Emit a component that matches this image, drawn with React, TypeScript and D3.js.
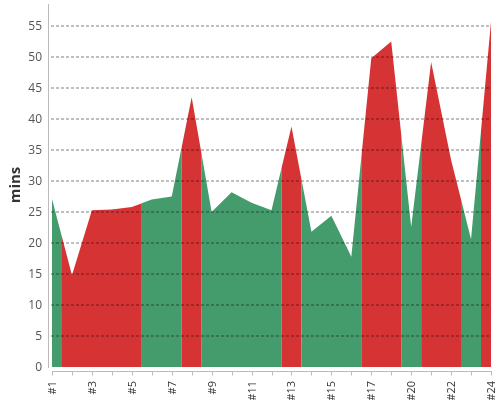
import React from "react";
import * as d3 from "d3";

const categories = ["#1","#2","#3","#4","#5","#6","#7","#8","#9","#10","#11","#12","#13","#14","#15","#16","#17","#18","#20","#21","#22","#23","#24"];
const values = [27.1,14.8,25.3,25.4,25.8,27.0,27.5,43.5,25.0,28.2,26.5,25.3,38.8,21.8,24.4,17.8,49.8,52.5,22.6,49.2,33.4,20.6,55.7];
const outcome = ["g","r","r","r","r","g","g","r","g","g","g","g","r","g","g","g","r","r","g","r","r","g","r"];
const yTicks = [0,5,10,15,20,25,30,35,40,45,50,55];
const yLabel = "mins";

const W = 500, H = 400;
const colors: Record<string, string> = { g: "#449c6c", r: "#d63334" };

export default function App() {
  const x = d3.scalePoint<string>().domain(categories).range([52, 491]);
  const y = d3.scaleLinear().domain([0, 55]).range([367, 26]);
  const step = x.step();
  const data = categories.map((c, i) => ({ c, v: values[i], o: outcome[i] }));
  const area = d3.area<typeof data[0]>().x(d => x(d.c)!).y0(y(0)).y1(d => y(d.v));
  const path = area(data) || "";

  // group runs of the same colour
  const runs: { o: string; start: number; end: number }[] = [];
  data.forEach((d, i) => {
    const last = runs[runs.length - 1];
    if (last && last.o === d.o) last.end = i;
    else runs.push({ o: d.o, start: i, end: i });
  });
  const x0 = x(categories[0])!;
  const x1 = x(categories[categories.length - 1])!;

  return (
    <svg width={W} height={H} style={{ position: "fixed", left: 0, top: 0, fontFamily: "'Open Sans', sans-serif" }}>
      <defs>
        {runs.map((r, i) => {
          const a = Math.max(x0, x(categories[r.start])! - step / 2);
          const b = Math.min(x1, x(categories[r.end])! + step / 2);
          return (
            <clipPath id={`run${i}`} key={i}>
              <rect x={a} y={0} width={b - a} height={H} />
            </clipPath>
          );
        })}
      </defs>
      {runs.map((r, i) => (
        <path key={i} d={path} fill={colors[r.o]} clipPath={`url(#run${i})`} />
      ))}
      {yTicks.filter(t => t > 0).map(t => (
        <line key={t} x1={51} x2={491} y1={y(t)} y2={y(t)} stroke="#000" strokeOpacity={0.5} strokeDasharray="3,2" />
      ))}
      {/* y axis */}
      <line x1={48.5} x2={48.5} y1={4} y2={368} stroke="#bbb" />
      {yTicks.map(t => (
        <text key={t} x={42} y={y(t)} dy="0.35em" textAnchor="end" fontSize={12} fill="#555">{t}</text>
      ))}
      <text transform={`translate(20,185) rotate(-90)`} textAnchor="middle" fontSize={15} fontWeight="bold" fill="#333">{yLabel}</text>
      {/* x axis */}
      <line x1={x0} x2={x1 + 1} y1={371.5} y2={371.5} stroke="#bbb" />
      {categories.map((c, i) => (
        <line key={c} x1={Math.round(x(c)!) + 0.5} x2={Math.round(x(c)!) + 0.5} y1={371.5} y2={375.5} stroke="#bbb" />
      ))}
      {categories.map((c, i) => i % 2 === 0 ? (
        <text key={c} transform={`translate(${x(c)! + 4},381) rotate(-90)`} textAnchor="end" fontSize={11} fill="#333">{c}</text>
      ) : null)}
    </svg>
  );
}
